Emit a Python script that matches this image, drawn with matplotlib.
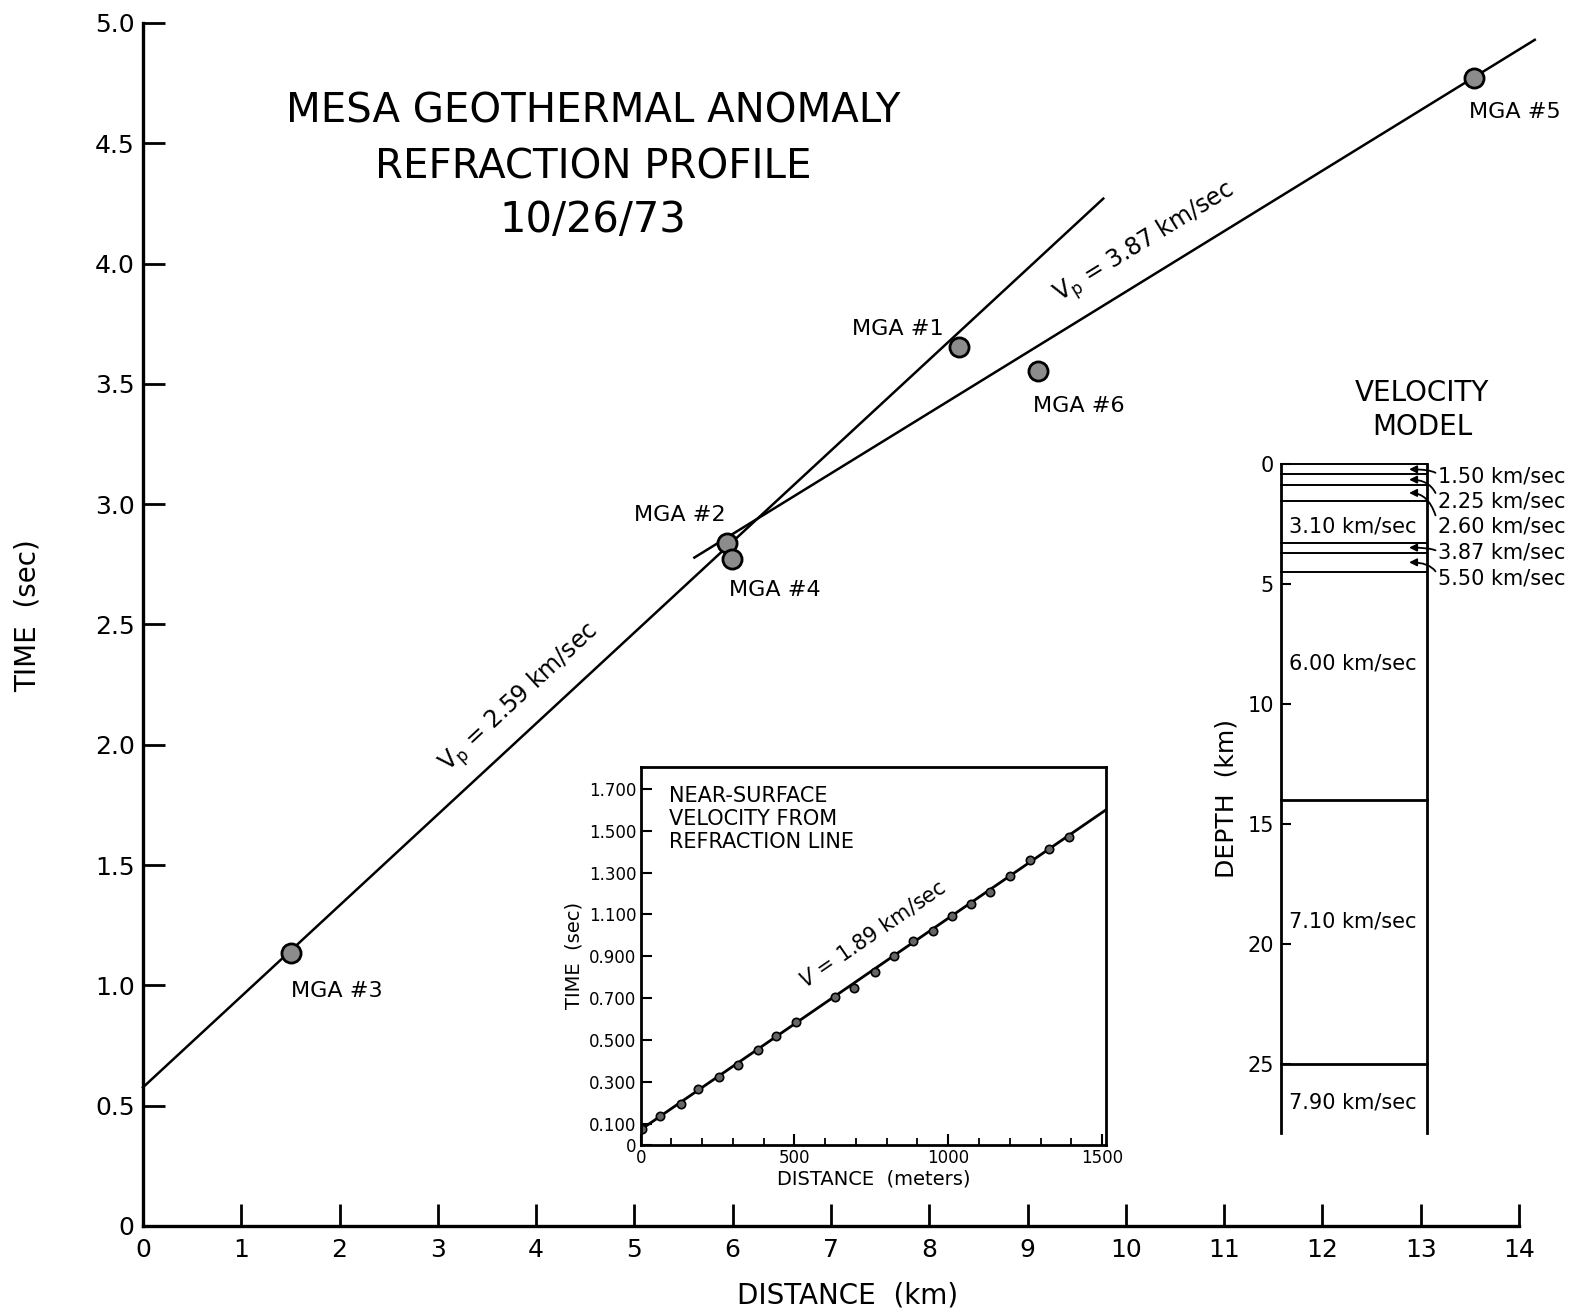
import numpy as np
import matplotlib
matplotlib.use("Agg")
import matplotlib.pyplot as plt

# --- dane: profil refrakcyjny ---
line_a_km = [0.0, 9.77]
line_a_sec = [0.576, 4.27]
line_a_label = r"V$_\mathregular{p}$ = 2.59 km/sec"
line_b_km = [5.61, 14.16]
line_b_sec = [2.778, 4.93]
line_b_label = r"V$_\mathregular{p}$ = 3.87 km/sec"

stations = ["MGA #1", "MGA #2", "MGA #3", "MGA #4", "MGA #5", "MGA #6"]
station_km = [8.30, 5.94, 1.51, 5.99, 13.54, 9.11]
station_sec = [3.655, 2.84, 1.134, 2.774, 4.77, 3.554]

x_ticks = list(range(15))
y_ticks = [0, 0.5, 1.0, 1.5, 2.0, 2.5, 3.0, 3.5, 4.0, 4.5, 5.0]
y_ticklabels = ["0", "0.5", "1.0", "1.5", "2.0", "2.5", "3.0", "3.5", "4.0", "4.5", "5.0"]

# --- dane: wstawka (near-surface) ---
near_m = [4, 64, 130, 187, 256, 316, 380, 440, 505, 631, 695, 761, 825, 887,
          950, 1011, 1073, 1137, 1202, 1266, 1326, 1392]
near_sec = [0.076, 0.138, 0.194, 0.265, 0.322, 0.383, 0.454, 0.521, 0.587, 0.707,
            0.751, 0.825, 0.901, 0.972, 1.021, 1.092, 1.148, 1.205, 1.286, 1.360,
            1.413, 1.472]
near_fit_m = [0, 1513]
near_fit_sec = [0.072, 1.60]
inset_yticks = [0, 0.1, 0.3, 0.5, 0.7, 0.9, 1.1, 1.3, 1.5, 1.7]
inset_yticklabels = ["0", "0.100", "0.300", "0.500", "0.700", "0.900",
                     "1.100", "1.300", "1.500", "1.700"]

# --- dane: model prędkości ---
layer_tops = [0, 0.42, 0.86, 1.53, 3.27, 3.68, 4.5, 14, 25]
layer_vel = ["1.50 km/sec", "2.25 km/sec", "2.60 km/sec", "3.10 km/sec",
             "3.87 km/sec", "5.50 km/sec", "6.00 km/sec", "7.10 km/sec", "7.90 km/sec"]
model_bottom = 27.9

plt.rcParams['font.family'] = ['DejaVu Sans']
fig = plt.figure(figsize=(15.83, 13.13), dpi=100)

# główny wykres
ax = fig.add_axes([0.0903, 0.0663, 0.8693, 0.9162])
ax.set_xlim(0, 14)
ax.set_ylim(0, 5)
for s in ['top', 'right']:
    ax.spines[s].set_visible(False)
for s in ['left', 'bottom']:
    ax.spines[s].set_linewidth(2.4)
ax.set_xticks(x_ticks)
ax.set_yticks(y_ticks)
ax.set_yticklabels(y_ticklabels)
ax.tick_params(direction='in', length=16, width=2, labelsize=18)
ax.tick_params(axis='x', pad=9)
ax.tick_params(axis='y', pad=6)

ax.plot(line_a_km, line_a_sec, color='black', lw=1.8, clip_on=False)
ax.plot(line_b_km, line_b_sec, color='black', lw=1.8, clip_on=False)

# podpisy prędkości wzdłuż prostych
for lx, ly, lab, pos, off in [(line_a_km, line_a_sec, line_a_label, 3.835, 0.165),
                              (line_b_km, line_b_sec, line_b_label, 10.19, 0.155)]:
    slope = (ly[1] - ly[0]) / (lx[1] - lx[0])
    ang = np.degrees(np.arctan2(ly[1] - ly[0], lx[1] - lx[0]))
    yy = ly[0] + slope * (pos - lx[0]) + off
    ax.text(pos, yy, lab, rotation=ang, transform_rotates_text=True,
            rotation_mode='anchor', ha='center', va='center', fontsize=17)

ax.scatter(station_km, station_sec, s=190, facecolor='#8c8c8c', edgecolor='black',
           linewidth=2, zorder=5, clip_on=False)

label_off = {"MGA #1": (-0.15, 0.075, 'right'), "MGA #2": (-0.01, 0.114, 'right'),
             "MGA #3": (0.0, -0.158, 'left'), "MGA #4": (-0.03, -0.132, 'left'),
             "MGA #5": (-0.05, -0.14, 'left'), "MGA #6": (-0.05, -0.144, 'left')}
for name, sx, sy in zip(stations, station_km, station_sec):
    dx, dy, ha = label_off[name]
    ax.text(sx + dx, sy + dy, name, ha=ha, va='center', fontsize=16)

ax.text(4.58, 4.63, "MESA GEOTHERMAL ANOMALY", ha='center', va='center', fontsize=29)
ax.text(4.58, 4.40, "REFRACTION PROFILE", ha='center', va='center', fontsize=29)
ax.text(4.58, 4.18, "10/26/73", ha='center', va='center', fontsize=30)

fig.text(0.0177, 0.531, "TIME  (sec)", rotation=90, ha='center', va='center', fontsize=20)
fig.text(0.5357, 0.0137, "DISTANCE  (km)", ha='center', va='center', fontsize=20)

# wstawka
ins = fig.add_axes([0.4047, 0.1281, 0.294, 0.288])
ins.set_xlim(0, 1513)
ins.set_ylim(0, 1.806)
for s in ins.spines.values():
    s.set_linewidth(2)
ins.plot(near_fit_m, near_fit_sec, color='black', lw=2)
ins.plot(near_m, near_sec, 'o', ms=6, mfc='#666666', mec='black', mew=1.2)
ins.set_xticks([0, 500, 1000, 1500])
ins.set_xticks(np.arange(0, 1501, 100), minor=True)
ins.set_yticks(inset_yticks)
ins.set_yticklabels(inset_yticklabels)
ins.tick_params(direction='in', length=8, width=1.5, labelsize=12, pad=3)
ins.tick_params(which='minor', direction='in', length=5, width=1.3)
ins.set_xlabel("DISTANCE  (meters)", fontsize=14, labelpad=2)
ins.set_ylabel("TIME  (sec)", fontsize=14, labelpad=4)
ins.text(0.062, 0.95, "NEAR-SURFACE\nVELOCITY FROM\nREFRACTION LINE",
         transform=ins.transAxes, ha='left', va='top', fontsize=15, linespacing=1.2)
ang_in = np.degrees(np.arctan2(near_fit_sec[1] - near_fit_sec[0], near_fit_m[1] - near_fit_m[0]))
ins.text(755, 1.01, r"$V$ = 1.89 km/sec", rotation=ang_in, transform_rotates_text=True,
         rotation_mode='anchor', ha='center', va='center', fontsize=15)

# model prędkości
vm = fig.add_axes([0.809, 0.1369, 0.0922, 0.5095])
vm.set_xlim(0, 1)
vm.set_ylim(model_bottom, 0)
vm.spines['top'].set_visible(False)
vm.spines['bottom'].set_visible(False)
vm.spines['left'].set_linewidth(2)
vm.spines['right'].set_linewidth(2)
vm.set_xticks([])
vm.set_yticks([0, 5, 10, 15, 20, 25])
vm.tick_params(axis='y', direction='in', length=7, width=1.5, labelsize=15, pad=5)
for d in layer_tops:
    vm.plot([0, 1], [d, d], color='black', lw=2 if d >= 14 else 1.4, clip_on=False)
vm.set_ylabel("DEPTH  (km)", fontsize=18, labelpad=6)
vm.text(0.97, 1.035, "VELOCITY\nMODEL", transform=vm.transAxes, ha='center', va='bottom',
        fontsize=20, linespacing=1.25, multialignment='center')

# prędkości grubych warstw w środku kolumny
for i, lab in enumerate(layer_vel):
    top = layer_tops[i]
    bot = layer_tops[i + 1] if i + 1 < len(layer_tops) else model_bottom
    if bot - top > 1.5:
        mid = {3: 2.6, 6: 8.3, 7: 19.06, 8: 26.6}[i]
        vm.text(0.055, mid, lab, ha='left', va='center', fontsize=15)

# cienkie warstwy: strzałki i podpisy na prawo
thin = [0, 1, 2, 4, 5]
text_depth = [0.49, 1.56, 2.6, 3.7, 4.75]
for i, td in zip(thin, text_depth):
    mid = (layer_tops[i] + layer_tops[i + 1]) / 2
    vm.annotate(layer_vel[i], xy=(0.88, mid), xytext=(1.08, td),
                ha='left', va='center', fontsize=15,
                arrowprops=dict(arrowstyle='-|>', color='black', lw=1.3,
                                mutation_scale=11, shrinkA=0, shrinkB=0,
                                relpos=(0, 0.5),
                                connectionstyle='angle3,angleA=100,angleB=0'))

fig.savefig("out.png", dpi=100)
